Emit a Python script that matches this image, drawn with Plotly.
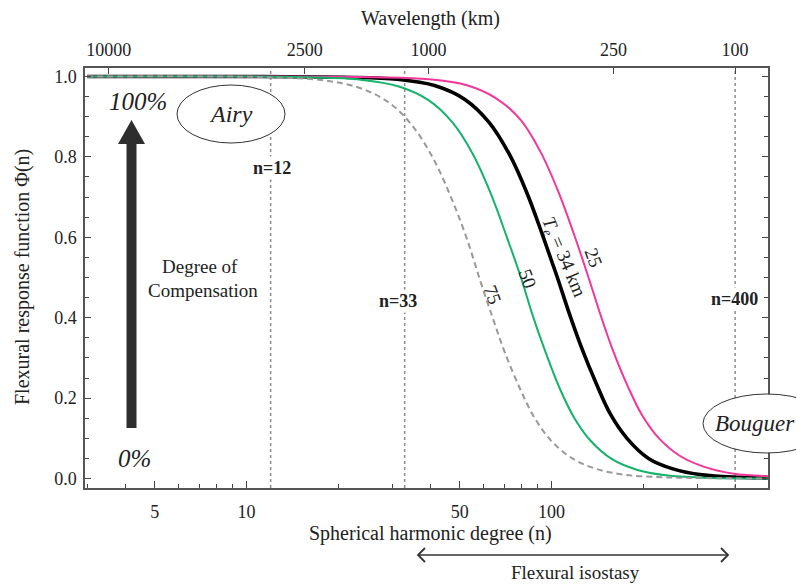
import numpy as np
import plotly.graph_objects as go

# ---------------- data ----------------
n_te25 = [3, 10, 26.4, 39.6, 52.8, 66, 79.2, 92.4, 105.6, 118.8, 132, 145.2, 158.4, 178.2, 198, 224.4, 264, 317, 396, 512]
phi_te25 = [1.0, 1.0, 0.998, 0.993, 0.978, 0.945, 0.892, 0.81, 0.711, 0.605, 0.502, 0.404, 0.322, 0.228, 0.158, 0.101, 0.056, 0.029, 0.012, 0.006]

n_te34 = [3, 10, 20.8, 31.2, 41.6, 52, 62.4, 72.8, 83.2, 93.6, 104, 114.4, 124.8, 140.4, 156, 176.8, 208, 250, 312, 416, 512]
phi_te34 = [1.0, 1.0, 0.998, 0.993, 0.977, 0.943, 0.886, 0.806, 0.709, 0.604, 0.505, 0.41, 0.33, 0.235, 0.16, 0.1, 0.05, 0.024, 0.009, 0.003, 0.001]

n_te50 = [3, 10, 15.8, 23.7, 31.6, 39.5, 47.4, 55.3, 63.2, 71.1, 79, 86.9, 94.8, 106.7, 118.5, 134.3, 158, 190, 237, 316, 512]
phi_te50 = [1.0, 1.0, 0.998, 0.992, 0.975, 0.941, 0.885, 0.806, 0.709, 0.604, 0.505, 0.404, 0.322, 0.222, 0.152, 0.094, 0.048, 0.022, 0.008, 0.002, 0.0]

n_te75 = [3, 8, 11.7, 17.6, 23.4, 29.3, 35.1, 41, 46.8, 52.7, 58.5, 64.4, 70.2, 79, 87.8, 99.5, 117, 140, 175, 234, 320, 512]
phi_te75 = [1.0, 1.0, 0.998, 0.991, 0.972, 0.935, 0.876, 0.795, 0.7, 0.598, 0.49, 0.396, 0.315, 0.222, 0.152, 0.095, 0.05, 0.024, 0.009, 0.003, 0.001, 0.0]

marker_degrees = [12, 33, 400]
marker_labels = ["n=12", "n=33", "n=400"]

bottom_ticks = [5, 10, 50, 100]
bottom_minor = [3, 4, 6, 7, 8, 9, 20, 30, 40, 60, 70, 80, 90, 200, 300, 400]
wavelength_labels = [10000, 2500, 1000, 250, 100]   # km
earth_circ = 40030.0  # km, 2*pi*R

# tick positions on the degree axis for each wavelength label: lambda = 2piR / sqrt(n(n+1))
wl_tickvals = [(-1 + np.sqrt(1 + 4 * (earth_circ / w) ** 2)) / 2 for w in wavelength_labels]

# ---------------- layout helpers (pixel -> paper) ----------------
L, R, T, B = 85, 768, 68, 488
def px(x):
    return (x - L) / (R - L)
def py(y):
    return (B - y) / (B - T)

YMIN, YMAX = -0.0236, 1.0211
XR = [0.4705, 2.7098]

SERIF = "Liberation Serif"
TXT = "#222222"

fig = go.Figure()

# vertical reference lines
for nd in marker_degrees:
    fig.add_trace(go.Scatter(x=[nd, nd], y=[YMIN, YMAX], mode="lines",
                             line=dict(color="#8c8c8c", width=1.5, dash="3px,3px"),
                             hoverinfo="skip", showlegend=False))

fig.add_trace(go.Scatter(x=n_te34, y=phi_te34, mode="lines", line_shape="spline",
                         line=dict(color="#000000", width=3.6), showlegend=False, hoverinfo="skip"))
fig.add_trace(go.Scatter(x=n_te25, y=phi_te25, mode="lines", line_shape="spline",
                         line=dict(color="#f2379b", width=2), showlegend=False, hoverinfo="skip"))
fig.add_trace(go.Scatter(x=n_te50, y=phi_te50, mode="lines", line_shape="spline",
                         line=dict(color="#14b36a", width=2), showlegend=False, hoverinfo="skip"))
fig.add_trace(go.Scatter(x=n_te75, y=phi_te75, mode="lines", line_shape="spline",
                         line=dict(color="#999999", width=2, dash="6px,4px"), showlegend=False, hoverinfo="skip"))

# dummy trace for top axis
fig.add_trace(go.Scatter(x=[3, 500], y=[0.5, 0.5], xaxis="x2", mode="lines",
                         line=dict(width=0), opacity=0, showlegend=False, hoverinfo="skip"))

axis_font = dict(family=SERIF, size=18, color=TXT)

fig.update_layout(
    width=796, height=586,
    margin=dict(l=L, r=796 - R, t=T, b=586 - B, autoexpand=False),
    paper_bgcolor="white", plot_bgcolor="white",
    showlegend=False,
    xaxis=dict(type="log", range=XR, tickmode="array", tickvals=bottom_ticks,
               ticktext=[str(v) for v in bottom_ticks],
               ticks="inside", ticklen=7, tickwidth=1.2, tickcolor="#444",
               minor=dict(tickmode="array", tickvals=bottom_minor, ticks="inside", ticklen=4,
                          tickwidth=1, tickcolor="#444", showgrid=False),
               showline=True, linecolor="#555", linewidth=1.5, mirror=True,
               showgrid=False, zeroline=False, tickfont=axis_font, ticklabelstandoff=7),
    xaxis2=dict(type="log", range=XR, overlaying="x", side="top", tickmode="array",
                tickvals=wl_tickvals, ticktext=[str(w) for w in wavelength_labels],
                ticks="inside", ticklen=6, tickwidth=1.2, tickcolor="#444",
                showline=False, showgrid=False, zeroline=False, tickfont=axis_font,
                ticklabelstandoff=7),
    yaxis=dict(range=[YMIN, YMAX], tickmode="array", tickvals=[0, 0.2, 0.4, 0.6, 0.8, 1.0],
               tickformat=".1f", ticks="inside", ticklen=6, tickwidth=1.2, tickcolor="#444",
               minor=dict(dtick=0.05, tick0=0, ticks="inside", ticklen=4, tickwidth=1,
                          tickcolor="#444", showgrid=False),
               showline=True, linecolor="#555", linewidth=1.5, mirror="ticks",
               showgrid=False, zeroline=False, tickfont=axis_font, ticklabelstandoff=3),
)

shapes = []
# Airy ellipse
shapes.append(dict(type="circle", xref="paper", yref="paper",
                   x0=px(177), x1=px(285), y0=py(143), y1=py(85),
                   line=dict(color="#333", width=1), fillcolor="white", layer="above"))
# Bouguer ellipse
shapes.append(dict(type="circle", xref="paper", yref="paper",
                   x0=px(703), x1=px(830), y0=py(453), y1=py(394),
                   line=dict(color="#333", width=1), fillcolor="white", layer="above"))
# big arrow shaft
shapes.append(dict(type="rect", xref="paper", yref="paper",
                   x0=px(126.5), x1=px(136.5), y0=py(428), y1=py(142),
                   line=dict(width=0), fillcolor="#2e2e2e", layer="above"))
# arrow head
shapes.append(dict(type="path", xref="paper", yref="paper",
                   path=f"M {px(118)} {py(144)} L {px(145)} {py(144)} L {px(131.5)} {py(120)} Z",
                   line=dict(width=0), fillcolor="#2e2e2e", layer="above"))
# flexural isostasy double arrow
shapes.append(dict(type="line", xref="paper", yref="paper",
                   x0=px(418), x1=px(728), y0=py(555), y1=py(555),
                   line=dict(color="#333", width=1.5)))
shapes.append(dict(type="path", xref="paper", yref="paper",
                   path=f"M {px(425)} {py(548)} L {px(418)} {py(555)} L {px(425)} {py(562)}",
                   line=dict(color="#333", width=1.8)))
shapes.append(dict(type="path", xref="paper", yref="paper",
                   path=f"M {px(721)} {py(548)} L {px(728)} {py(555)} L {px(721)} {py(562)}",
                   line=dict(color="#333", width=1.8)))
fig.update_layout(shapes=shapes)

def ann(x, y, text, size=16, italic=False, bold=False, angle=0, bg=None, color=TXT):
    t = text
    if italic:
        t = f"<i>{t}</i>"
    if bold:
        t = f"<b>{t}</b>"
    d = dict(x=px(x), y=py(y), xref="paper", yref="paper", text=t, showarrow=False,
             xanchor="center", yanchor="middle", textangle=angle,
             font=dict(family=SERIF, size=size, color=color))
    if bg:
        d.update(bgcolor=bg, borderpad=1)
    fig.add_annotation(**d)

ann(430, 19, "Wavelength (km)", size=20)
ann(430, 533, "Spherical harmonic degree (n)", size=20)
ann(575, 572, "Flexural isostasy", size=19)
ann(22, 277, "Flexural response function Φ(n)", size=20, angle=-90)
ann(138, 101, "100%", size=25, italic=True)
ann(134, 458, "0%", size=25, italic=True)
ann(231, 114, "Airy", size=24, italic=True)
ann(755, 423, "Bouguer", size=23, italic=True)
ann(200, 266, "Degree of", size=19)
ann(203, 290, "Compensation", size=19)
label_pos = [(272, 168), (398, 301), (734, 299)]
for (x, y), lab in zip(label_pos, marker_labels):
    ann(x, y, lab, size=18, bold=True, bg="white")
ann(594, 257, "25", size=19, angle=70)
ann(563, 257, "<i>T<sub>e</sub></i> = 34 km", size=19, angle=67)
ann(528, 278, "50", size=19, angle=70)
ann(493, 294, "75", size=19, angle=70)

fig.write_html("out.html", config={"displayModeBar": False},
               post_script="document.body.style.margin='0px';document.body.style.padding='0px';")
